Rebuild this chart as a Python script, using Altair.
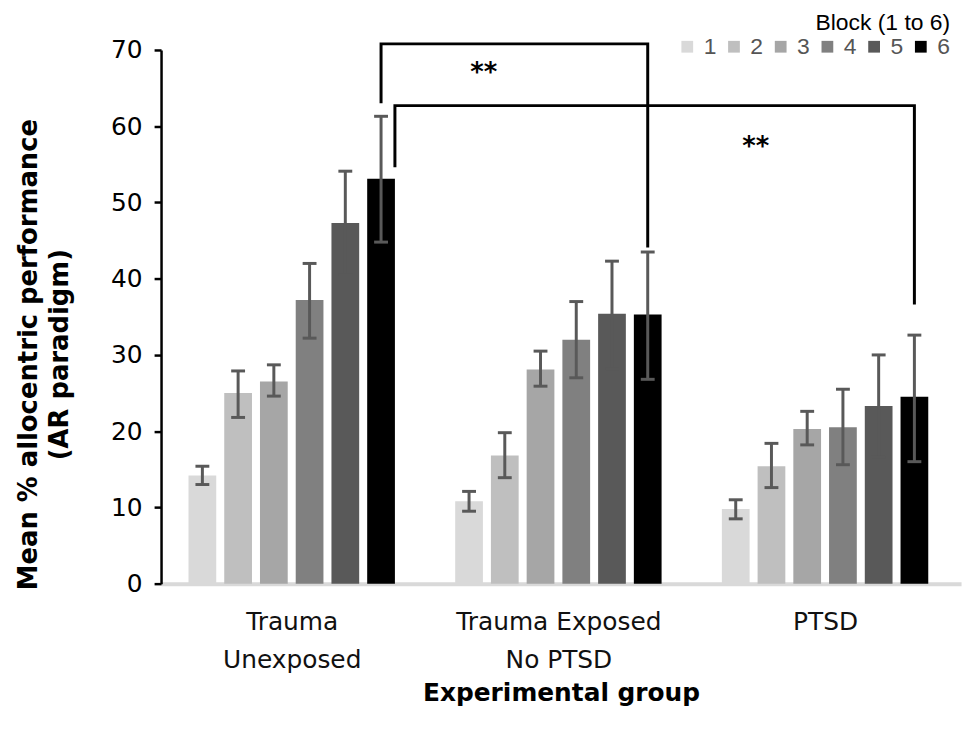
import altair as alt
import pandas as pd

groups = ["Trauma Unexposed", "Trauma Exposed No PTSD", "PTSD"]
group_lines = [["Trauma", "Unexposed"], ["Trauma Exposed", "No PTSD"], ["PTSD"]]
blocks = ["1", "2", "3", "4", "5", "6"]
block_colors = ["#d9d9d9", "#bfbfbf", "#a6a6a6", "#808080", "#595959", "#000000"]

means = [
    [14.2, 25.0, 26.5, 37.2, 47.3, 53.1],
    [10.8, 16.8, 28.1, 32.0, 35.4, 35.3],
    [9.8, 15.4, 20.3, 20.5, 23.3, 24.5],
]
lower = [
    [13.0, 21.8, 24.6, 32.2, 40.5, 44.8],
    [9.5, 13.9, 25.9, 27.0, 28.2, 26.8],
    [8.5, 12.6, 18.2, 15.6, 16.6, 16.0],
]
upper = [
    [15.4, 27.9, 28.7, 42.0, 54.1, 61.3],
    [12.1, 19.8, 30.5, 37.0, 42.3, 43.5],
    [11.0, 18.4, 22.6, 25.5, 30.0, 32.6],
]

# significance brackets: (bracket id, point order, group index, block index, side, y)
br_id = [1, 1, 1, 1, 2, 2, 2, 2]
br_ord = [0, 1, 2, 3, 0, 1, 2, 3]
br_group = [0, 0, 1, 1, 0, 0, 2, 2]
br_block = [6, 6, 6, 6, 6, 6, 6, 6]
br_side = [0, 0, 0, 0, 1, 1, 0, 0]
br_y = [63.2, 70.8, 70.8, 44.3, 54.8, 62.7, 62.7, 36.8]

star_text = ["**", "**"]
star_x = [0.72, 1.74]
star_y = [67.0, 57.3]

STEP = 0.134
HALF = 0.052
CAP = 0.026

rows = []
for gi, g in enumerate(groups):
    for bi, b in enumerate(blocks):
        rows.append({"gi": gi, "group": g, "bi": bi + 1, "block": b,
                     "mean": means[gi][bi], "lo": lower[gi][bi], "hi": upper[gi][bi]})
df = pd.DataFrame(rows)

br = pd.DataFrame({"id": br_id, "ord": br_ord, "gi": br_group, "bi": br_block,
                   "side": br_side, "y": br_y})
stars = pd.DataFrame({"t": star_text, "x": star_x, "y": star_y})

xscale = alt.Scale(domain=[-0.49, 2.51], nice=False, zero=False)
yscale = alt.Scale(domain=[0, 70], nice=False)

label_expr = "[" + ",".join("[" + ",".join(f"'{s}'" for s in gl) + "]" for gl in group_lines) + "][round(datum.value)]"

FONT = "DejaVu Sans"

base = alt.Chart(df).transform_calculate(
    xc=f"datum.gi + (datum.bi - 3.5) * {STEP}",
    x1=f"datum.gi + (datum.bi - 3.5) * {STEP} - {HALF}",
    x2=f"datum.gi + (datum.bi - 3.5) * {STEP} + {HALF}",
    c1=f"datum.gi + (datum.bi - 3.5) * {STEP} - {CAP}",
    c2=f"datum.gi + (datum.bi - 3.5) * {STEP} + {CAP}",
    zero="0",
)

bars = base.mark_rect().encode(
    x=alt.X("x1:Q", scale=xscale,
            axis=alt.Axis(values=[0, 1, 2], labelExpr=label_expr, title="Experimental group",
                          ticks=False, grid=False, domainColor="#d9d9d9", domainWidth=4,
                          labelFontSize=25, labelColor="#111", labelPadding=26,
                          labelLineHeight=38, labelFont=FONT, labelLimit=0,
                          titleFontSize=25, titleFontWeight="bold", titleFont=FONT,
                          titlePadding=9, titleColor="#000")),
    x2="x2:Q",
    y=alt.Y("mean:Q", scale=yscale,
            axis=alt.Axis(values=[0, 10, 20, 30, 40, 50, 60, 70], grid=False,
                          title=["Mean % allocentric  performance", "(AR paradigm)"],
                          titleFontSize=26, titleFontWeight="bold", titleFont=FONT,
                          titleColor="#000", titleLineHeight=31,
                          titleX=-120, titleY=306, titleAngle=270,
                          labelFontSize=25, labelFont=FONT, labelColor="#000",
                          labelPadding=12, domainColor="#000", domainWidth=2.5,
                          tickColor="#000", tickWidth=2.5, tickSize=7)),
    y2="zero:Q",
    color=alt.Color("block:N", scale=alt.Scale(domain=blocks, range=block_colors),
                    legend=alt.Legend(title="Block (1 to 6)", orient="none", direction="horizontal",
                                      legendX=518, legendY=-38, titleAnchor="end",
                                      titleFontSize=23, titleFontWeight="normal",
                                      titleFont="Liberation Sans", titleColor="#000",
                                      labelFontSize=23, labelFont="Liberation Sans",
                                      labelColor="#555", symbolType="square", symbolSize=140,
                                      symbolStrokeWidth=0, columnPadding=6, labelOffset=5,
                                      titlePadding=0)),
)

err = base.mark_rule(color="#595959", strokeWidth=3).encode(
    x=alt.X("xc:Q", scale=xscale), y="lo:Q", y2="hi:Q")
cap_lo = base.mark_rule(color="#595959", strokeWidth=3).encode(
    x=alt.X("c1:Q", scale=xscale), x2="c2:Q", y="lo:Q")
cap_hi = base.mark_rule(color="#595959", strokeWidth=3).encode(
    x=alt.X("c1:Q", scale=xscale), x2="c2:Q", y="hi:Q")

brackets = alt.Chart(br).transform_calculate(
    bx=f"datum.gi + (datum.bi - 3.5) * {STEP} + datum.side * {HALF}"
).mark_line(color="#000", strokeWidth=3, strokeCap="square", strokeJoin="miter").encode(
    x=alt.X("bx:Q", scale=xscale), y=alt.Y("y:Q", scale=yscale),
    detail="id:N", order="ord:Q")

star_marks = alt.Chart(stars).mark_text(fontSize=26, fontWeight="bold", font=FONT,
                                        color="#000").encode(
    x=alt.X("x:Q", scale=xscale), y=alt.Y("y:Q", scale=yscale), text="t:N")

chart = alt.layer(bars, err, cap_lo, cap_hi, brackets, star_marks).properties(
    width=805, height=537,
    autosize=alt.AutoSizeParams(type="none"),
    padding={"left": 154, "top": 40, "right": 10, "bottom": 140},
).configure_view(stroke=None)

chart.save("out.html", embed_options={"renderer": "svg", "actions": False})
